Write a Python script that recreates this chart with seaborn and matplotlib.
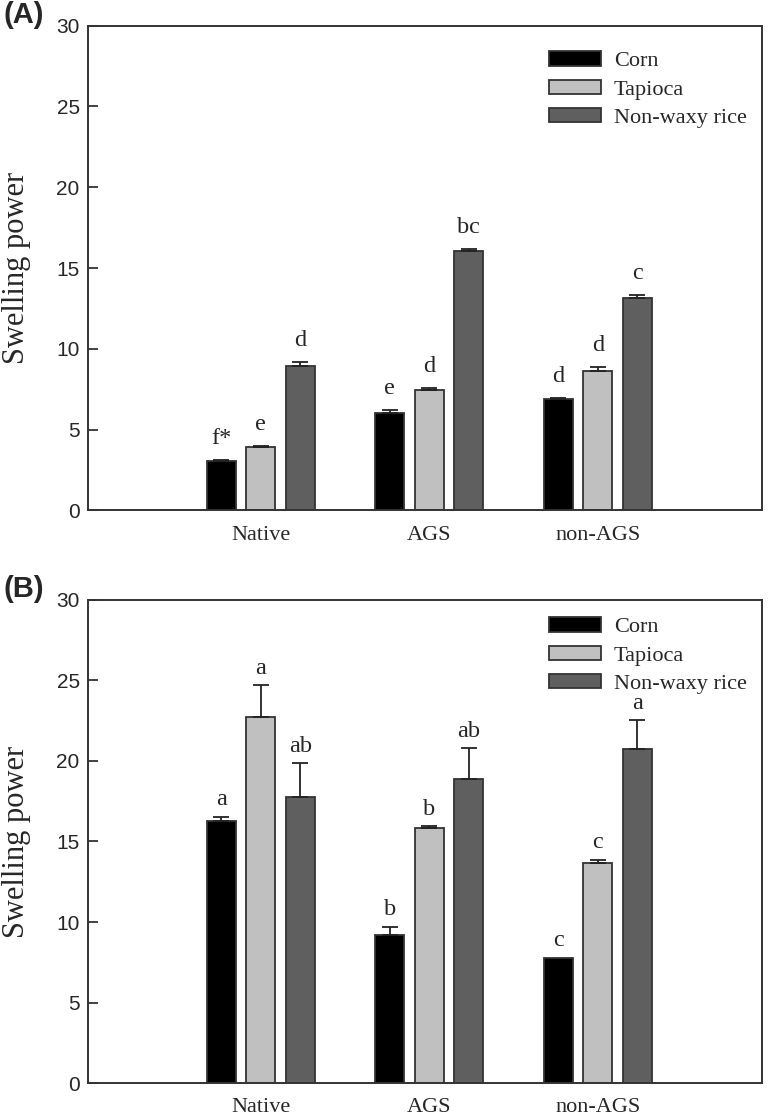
import matplotlib
matplotlib.use("Agg")
import numpy as np
import pandas as pd
import matplotlib.pyplot as plt
import seaborn as sns

groups = ["Native", "AGS", "non-AGS"]
starches = ["Corn", "Tapioca", "Non-waxy rice"]
colors = ["#000000", "#c0c0c0", "#5f5f5f"]

# panel (A) swelling power, mean and upper error
a_corn = [3.05, 6.05, 6.88]
a_tapioca = [3.92, 7.42, 8.61]
a_rice = [8.93, 16.05, 13.13]
a_corn_err = [0.07, 0.15, 0.05]
a_tapioca_err = [0.05, 0.15, 0.26]
a_rice_err = [0.22, 0.12, 0.2]
a_corn_sig = ["f*", "e", "d"]
a_tapioca_sig = ["e", "d", "d"]
a_rice_sig = ["d", "bc", "c"]

# panel (B)
b_corn = [16.25, 9.17, 7.8]
b_tapioca = [22.75, 15.86, 13.66]
b_rice = [17.75, 18.85, 20.77]
b_corn_err = [0.3, 0.55, 0.0]
b_tapioca_err = [1.95, 0.08, 0.22]
b_rice_err = [2.1, 1.95, 1.75]
b_corn_sig = ["a", "b", "c"]
b_tapioca_sig = ["a", "b", "c"]
b_rice_sig = ["ab", "ab", "a"]

sns.set_theme(style="white")
plt.rcParams["font.family"] = ["Liberation Serif", "DejaVu Serif"]

SANS = ["Liberation Sans", "DejaVu Sans"]
EDGE = "#333333"


def draw_panel(ax, values, errors, sigs, tag, legend_y, sig_offset):
    df = pd.DataFrame({
        "group": np.repeat([groups], 3, axis=0).ravel(),
        "starch": np.repeat(starches, 3),
        "value": np.concatenate(values),
    })
    sns.barplot(
        data=df, x="group", y="value", hue="starch",
        order=groups, hue_order=starches, palette=colors,
        width=0.703, gap=0.265, edgecolor=EDGE, linewidth=1.3,
        errorbar=None, ax=ax,
    )
    # one-sided error bars + significance letters on top of each bar
    for cont, err, sig in zip(ax.containers, errors, sigs):
        for bar, e, s in zip(cont, err, sig):
            x = bar.get_x() + bar.get_width() / 2
            top = bar.get_height()
            if e > 0:
                ax.errorbar(x, top, yerr=[[0], [e]], fmt="none", ecolor="#222222",
                            elinewidth=1.3, capsize=5.5, capthick=1.3, zorder=3)
            ax.annotate(s, (x, top + e), xytext=(0, sig_offset), textcoords="offset points",
                        ha="center", va="bottom", fontsize=17.5)

    ax.set_xlim(-1.025, 2.975)
    ax.set_ylim(0, 30)
    ax.set_yticks(np.arange(0, 31, 5))
    ax.set_xticks(range(3))
    ax.set_xticklabels(groups, fontsize=16)
    ax.set_xticks([-0.5, 0.5, 1.5, 2.5], minor=True)
    ax.tick_params(axis="x", which="major", direction="out", length=2, width=1, pad=9, color=EDGE)
    ax.tick_params(axis="x", which="minor", direction="in", length=7, width=1.3, color=EDGE)
    ax.tick_params(axis="y", direction="in", length=7, width=1.3, pad=6, color=EDGE, left=True)
    for lab in ax.get_yticklabels():
        lab.set_family(SANS)
        lab.set_fontsize(15)
    ax.set_xlabel("")
    ax.set_ylabel("Swelling power", fontsize=22, labelpad=18)
    for sp in ax.spines.values():
        sp.set_visible(True)
        sp.set_color(EDGE)
        sp.set_linewidth(1.4)

    handles, labels = ax.get_legend_handles_labels()
    ax.legend(handles, labels, loc="upper left", bbox_to_anchor=(0.661, legend_y),
              frameon=False, fontsize=16, handlelength=2.34, handleheight=0.63,
              handletextpad=0.58, labelspacing=0.37, borderpad=0.2)

    ax.figure.text(0.004, ax.get_position().y1 + 0.022, tag, fontsize=21,
                   fontweight="bold", family=SANS, ha="left", va="top")


fig = plt.figure(figsize=(7.69, 11.19), dpi=100)
ax_a = fig.add_axes([0.1144, 0.544, 0.8766, 0.433])
ax_b = fig.add_axes([0.1144, 0.032, 0.8766, 0.432])

draw_panel(ax_a, [a_corn, a_tapioca, a_rice], [a_corn_err, a_tapioca_err, a_rice_err],
           [a_corn_sig, a_tapioca_sig, a_rice_sig], "(A)", 0.9795, 8)
draw_panel(ax_b, [b_corn, b_tapioca, b_rice], [b_corn_err, b_tapioca_err, b_rice_err],
           [b_corn_sig, b_tapioca_sig, b_rice_sig], "(B)", 0.996, 4.5)

fig.savefig("out.png", dpi=100)
